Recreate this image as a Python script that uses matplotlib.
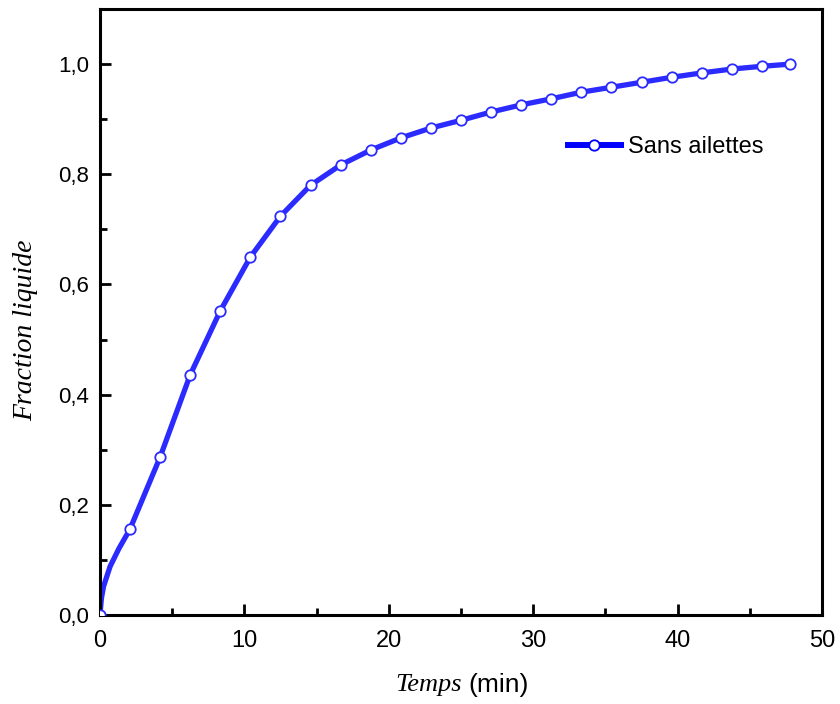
import matplotlib

matplotlib.use("Agg")
import matplotlib.pyplot as plt
from matplotlib.ticker import FuncFormatter, MultipleLocator

# Marker points (time in min, liquid fraction)
temps = [0.0, 2.08, 4.17, 6.25, 8.33, 10.42, 12.5, 14.58, 16.67, 18.75,
         20.83, 22.92, 25.0, 27.08, 29.17, 31.25, 33.33, 35.42, 37.5,
         39.58, 41.67, 43.75, 45.83, 47.8]
fraction = [0.0, 0.156, 0.287, 0.436, 0.552, 0.650, 0.724, 0.780, 0.817,
            0.844, 0.866, 0.884, 0.898, 0.913, 0.926, 0.937, 0.949, 0.958,
            0.967, 0.976, 0.984, 0.991, 0.996, 1.0]

# extra points of the curve near t = 0 (steep start)
debut_t = [0.0, 0.1, 0.25, 0.7, 1.3]
debut_f = [0.0, 0.03, 0.052, 0.088, 0.12]

ligne_t = debut_t + temps[1:]
ligne_f = debut_f + fraction[1:]

fig = plt.figure(figsize=(8.4, 7.04), dpi=100)
ax = fig.add_axes([0.119, 0.1264, 0.8596, 0.8608])

bleu = "#2b2bff"
ax.plot(ligne_t, ligne_f, color=bleu, lw=3.8, solid_capstyle="round", zorder=2)
ax.plot(temps, fraction, "o", ms=7.5, mfc="white", mec=bleu, mew=1.3, zorder=3)

# legend handle: line with one marker
(h,) = ax.plot([], [], "-o", color="#0000ff", lw=4.3, ms=7.5, mfc="white",
               mec="#0000ff", mew=1.3)
ax.legend([h], ["Sans ailettes"], loc="center left", bbox_to_anchor=(0.648, 0.772),
          frameon=False, prop={"family": "Liberation Sans", "size": 17},
          borderpad=0, borderaxespad=0, handlelength=2.25, handletextpad=0.3)

ax.set_xlim(0, 50)
ax.set_ylim(0, 1.1)
ax.xaxis.set_major_locator(MultipleLocator(10))
ax.xaxis.set_minor_locator(MultipleLocator(5))
ax.yaxis.set_major_locator(MultipleLocator(0.2))
ax.yaxis.set_minor_locator(MultipleLocator(0.1))
ax.yaxis.set_major_formatter(FuncFormatter(lambda v, p: f"{v:.1f}".replace(".", ",")))

ax.tick_params(which="both", direction="in", width=2, top=False, right=False)
ax.tick_params(which="major", length=8)
ax.tick_params(which="minor", length=5)
ax.tick_params(axis="x", which="major", labelsize=17, pad=11)
ax.tick_params(axis="y", which="major", labelsize=16, pad=8)
for lab in ax.get_xticklabels() + ax.get_yticklabels():
    lab.set_family("Liberation Sans")
for s in ax.spines.values():
    s.set_linewidth(2.2)

fig.text(0.031, 0.531, "Fraction liquide", family="Liberation Serif", style="italic",
         fontsize=20, rotation=90, ha="center", va="center")
fig.text(0.55, 0.027, "Temps", family="Liberation Serif", style="italic",
         fontsize=19, ha="right", va="center")
fig.text(0.558, 0.027, "(min)", family="Liberation Sans", fontsize=19,
         ha="left", va="center")

fig.savefig("out.png", dpi=100)
